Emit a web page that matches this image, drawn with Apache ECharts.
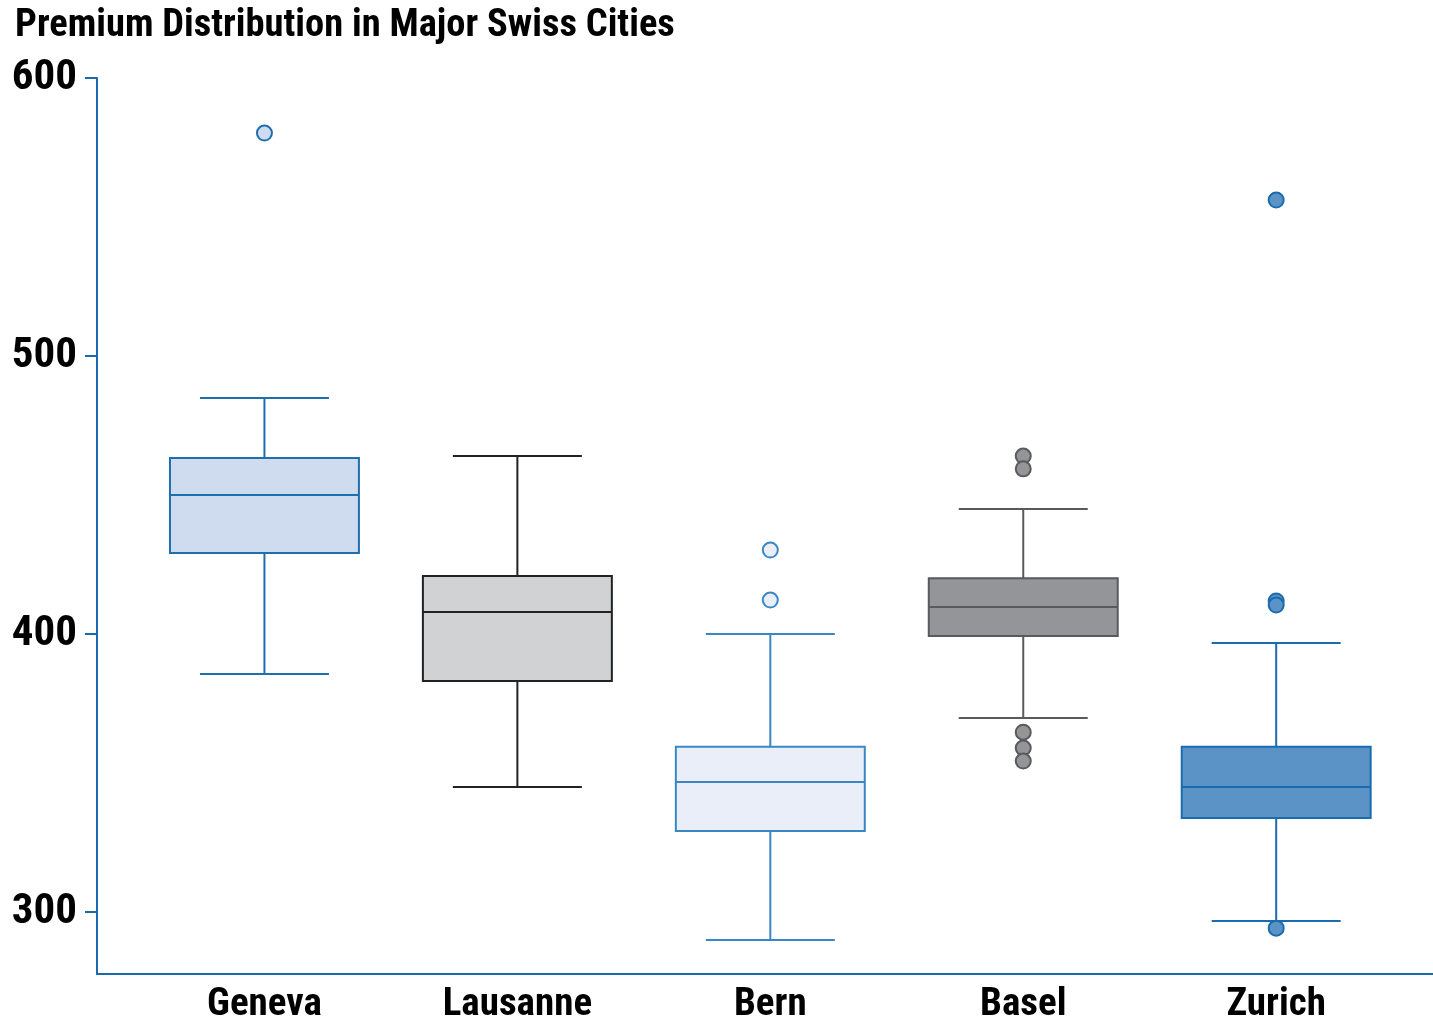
<!DOCTYPE html>
<html>
<head>
<meta charset="utf-8">
<script src="https://cdn.jsdelivr.net/npm/echarts@6/dist/echarts.min.js"></script>
<style>html,body{margin:0;padding:0;background:#fff}#c{width:1433px;height:1021px}</style>
</head>
<body>
<div id="c"></div>
<script>
// ---- data ----
var cities = ['Geneva', 'Lausanne', 'Bern', 'Basel', 'Zurich'];
// [min whisker, Q1, median, Q3, max whisker]
var geneva   = [385.6, 429.1, 450.0, 463.3, 484.9];
var lausanne = [345.0, 383.1, 407.9, 420.9, 464.0];
var bern     = [289.9, 329.1, 346.8, 359.4, 400.0];
var basel    = [369.8, 399.3, 409.7, 420.1, 445.0];
var zurich   = [296.8, 333.8, 345.0, 359.4, 396.8];
var genevaOut   = [580.2];
var lausanneOut = [];
var bernOut     = [430.2, 412.2];
var baselOut    = [464.0, 459.4, 364.7, 359.0, 354.3];
var zurichOut   = [556.1, 411.9, 410.4, 294.2];
var yTicks = [300, 400, 500, 600];

// ---- styles ----
var fills   = ['#cfdbee', '#d1d2d4', '#e9eef8', '#939598', '#5b93c7'];
var strokes = ['#1f6fad', '#222222', '#3b87c4', '#5a5a5a', '#1b6cae'];

var boxes = [geneva, lausanne, bern, basel, zurich];
var outs = [genevaOut, lausanneOut, bernOut, baselOut, zurichOut];

var boxData = boxes.map(function (b, i) { return [i].concat(b); });
var outData = [];
outs.forEach(function (arr, i) {
  arr.forEach(function (v) {
    outData.push({ value: [i, v], itemStyle: { color: fills[i], borderColor: strokes[i], borderWidth: 2, opacity: 1 } });
  });
});

var font = '"Liberation Sans Narrow", "Roboto Condensed", "Arial Narrow", sans-serif';
var axisBlue = '#1a6aad';

var chart = echarts.init(document.getElementById('c'), null, { renderer: 'canvas' });
chart.setOption({
  animation: false,
  backgroundColor: '#fff',
  title: {
    text: 'Premium Distribution in Major Swiss Cities',
    left: 15, top: 7, padding: 0,
    textStyle: { fontFamily: font, fontWeight: 'bold', fontSize: 38.5, color: '#000' }
  },
  grid: { left: 97, right: 0, top: 78, bottom: 47, containLabel: false, outerBoundsMode: 'none' },
  xAxis: {
    type: 'value', min: -0.662, max: 4.62,
    splitLine: { show: false },
    axisLine: { show: true, onZero: false, lineStyle: { color: axisBlue, width: 2 } },
    axisTick: { show: false },
    axisLabel: {
      customValues: [0, 1, 2, 3, 4],
      formatter: function (v) { return cities[Math.round(v)]; },
      fontFamily: font, fontWeight: 'bold', fontSize: 39, color: '#000', margin: 12
    }
  },
  yAxis: {
    type: 'value', min: 277.7, max: 600,
    splitLine: { show: false },
    axisLine: { show: true, onZero: false, lineStyle: { color: axisBlue, width: 2 } },
    axisTick: { show: true, length: 12, customValues: yTicks, lineStyle: { color: axisBlue, width: 2 } },
    axisLabel: {
      customValues: yTicks,
      fontFamily: font, fontWeight: 'bold', fontSize: 43, color: '#000', margin: 20,
      padding: [14, 0, 0, 0]
    }
  },
  series: [
    {
      type: 'custom',
      data: boxData,
      encode: { x: 0, y: [1, 2, 3, 4, 5] },
      renderItem: function (params, api) {
        var i = params.dataIndex;
        var x = api.value(0);
        var unit = api.size([1, 0])[0];
        var hw = unit * 0.747 / 2;
        var cw = unit * 0.51 / 2;
        var pMin = api.coord([x, api.value(1)]);
        var pQ1 = api.coord([x, api.value(2)]);
        var pMed = api.coord([x, api.value(3)]);
        var pQ3 = api.coord([x, api.value(4)]);
        var pMax = api.coord([x, api.value(5)]);
        var cx = pMed[0];
        var ls = { stroke: strokes[i], lineWidth: 2, fill: null };
        return {
          type: 'group',
          children: [
            { type: 'line', shape: { x1: cx, y1: pMax[1], x2: cx, y2: pQ3[1] }, style: ls },
            { type: 'line', shape: { x1: cx, y1: pQ1[1], x2: cx, y2: pMin[1] }, style: ls },
            { type: 'line', shape: { x1: cx - cw, y1: pMax[1], x2: cx + cw, y2: pMax[1] }, style: ls },
            { type: 'line', shape: { x1: cx - cw, y1: pMin[1], x2: cx + cw, y2: pMin[1] }, style: ls },
            { type: 'rect', shape: { x: cx - hw, y: pQ3[1], width: hw * 2, height: pQ1[1] - pQ3[1] },
              style: { fill: fills[i], stroke: strokes[i], lineWidth: 2 } },
            { type: 'line', shape: { x1: cx - hw, y1: pMed[1], x2: cx + hw, y2: pMed[1] }, style: ls }
          ]
        };
      },
      z: 2
    },
    {
      type: 'scatter',
      data: outData,
      symbol: 'circle',
      symbolSize: 15,
      itemStyle: { opacity: 1 },
      z: 3
    }
  ]
});
</script>
</body>
</html>
